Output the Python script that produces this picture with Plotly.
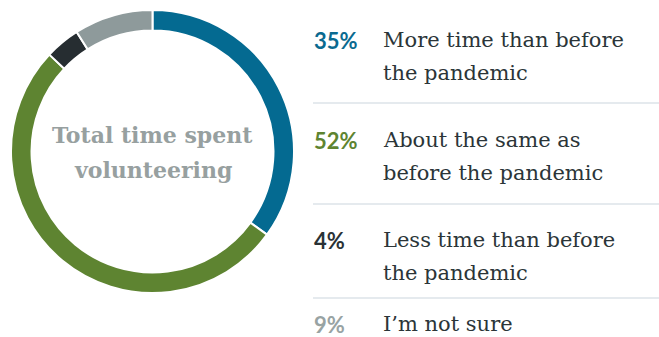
import plotly.graph_objects as go

labels = ["More time than before<br>the pandemic",
          "About the same as<br>before the pandemic",
          "Less time than before<br>the pandemic",
          "I’m not sure"]
values = [35, 52, 4, 9]
colors = ["#046A91", "#5E8431", "#262D31", "#8E9A9B"]
pct_colors = ["#0A6A90", "#5E8431", "#2A3236", "#98A3A3"]
center_title = ["Total time spent", "volunteering"]

W, H = 659, 337
fig = go.Figure()
fig.add_trace(go.Pie(
    values=values, labels=labels, sort=False, direction="clockwise", rotation=0,
    hole=0.855, textinfo="none", hoverinfo="label+percent",
    marker=dict(colors=colors, line=dict(color="white", width=2)),
    domain=dict(x=[11 / W, 294 / W], y=[1 - 293 / H, 1 - 10 / H]),
    showlegend=False,
))

# row geometry (pixels from top)
row_first_line = [40, 140, 240, 324]
line_gap = 33
seps = [103, 204, 298]

ann = []
for j, t in enumerate(center_title):
    ann.append(dict(text="<b>" + t + "</b>", x=152.5 / W, y=1 - (135 + 35 * j) / H,
                    xref="paper", yref="paper", showarrow=False,
                    font=dict(family="DejaVu Serif", size=22, color="#97A0A0"),
                    xanchor="center", yanchor="middle"))
for i, (lab, v) in enumerate(zip(labels, values)):
    yc = row_first_line[i]
    ann.append(dict(text="<b>%d%%</b>" % v, x=312 / W, y=1 - yc / H,
                    xref="paper", yref="paper", showarrow=False,
                    xanchor="left", yanchor="middle",
                    font=dict(family="Lato", size=22, color=pct_colors[i])))
    for k, part in enumerate(lab.split("<br>")):
        ann.append(dict(text=part, x=381 / W, y=1 - (yc + line_gap * k) / H,
                        xref="paper", yref="paper", showarrow=False,
                        xanchor="left", yanchor="middle",
                        font=dict(family="DejaVu Serif", size=21, color="#2B3538")))

shapes = [dict(type="line", xref="paper", yref="paper", x0=313 / W, x1=1,
               y0=1 - s / H, y1=1 - s / H, line=dict(color="#DCE3E8", width=1.5))
          for s in seps]

fig.update_layout(width=W, height=H, margin=dict(l=0, r=0, t=0, b=0),
                  paper_bgcolor="white", plot_bgcolor="white",
                  annotations=ann, shapes=shapes)
fig.write_html("out.html", config={"displayModeBar": False},
               post_script="document.body.style.margin='0';")
